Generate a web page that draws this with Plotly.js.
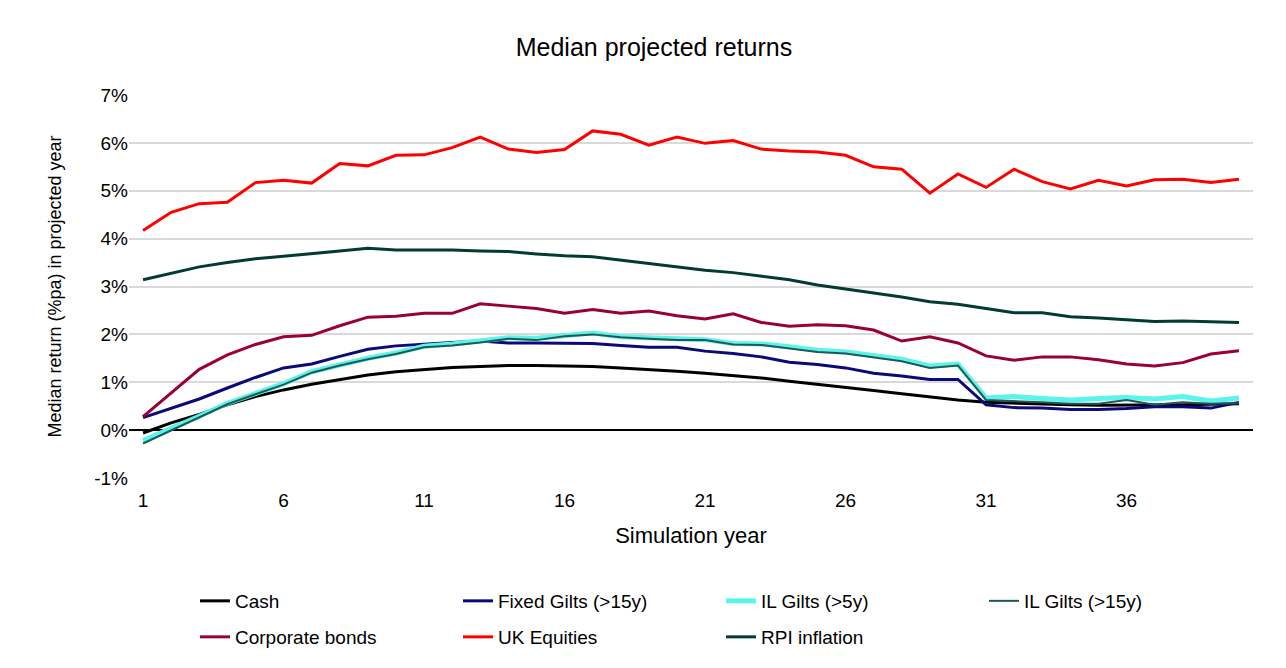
<!DOCTYPE html>
<html>
<head>
<meta charset="utf-8">
<script src="https://cdn.plot.ly/plotly-3.0.1.min.js"></script>
<style>
  html, body { margin: 0; padding: 0; background: #ffffff; }
  #chart { width: 1286px; height: 668px; }
</style>
</head>
<body>
<div id="chart"></div>
<script>
// Simulation years
const years = Array.from({length: 40}, (_, i) => i + 1);
const xTickVals = [1, 6, 11, 16, 21, 26, 31, 36];
const yTickVals = [-1, 0, 1, 2, 3, 4, 5, 6, 7];
const yTickText = ["-1%", "0%", "1%", "2%", "3%", "4%", "5%", "6%", "7%"];

// Median projected returns (% pa)
const cash = [-0.06, 0.15, 0.33, 0.53, 0.70, 0.84, 0.96, 1.06, 1.15, 1.22, 1.27, 1.31, 1.33, 1.35, 1.35, 1.34, 1.33, 1.30, 1.27, 1.23, 1.19, 1.14, 1.09, 1.02, 0.96, 0.90, 0.83, 0.76, 0.69, 0.63, 0.58, 0.56, 0.54, 0.53, 0.52, 0.52, 0.52, 0.53, 0.54, 0.55];
const fixedGilts = [0.26, 0.45, 0.65, 0.88, 1.10, 1.30, 1.38, 1.54, 1.69, 1.76, 1.80, 1.83, 1.86, 1.82, 1.82, 1.82, 1.81, 1.77, 1.73, 1.73, 1.65, 1.60, 1.53, 1.42, 1.37, 1.30, 1.19, 1.13, 1.06, 1.06, 0.53, 0.47, 0.46, 0.43, 0.43, 0.45, 0.49, 0.49, 0.46, 0.58];
const ilGilts5 = [-0.22, 0.03, 0.29, 0.56, 0.77, 0.97, 1.22, 1.37, 1.50, 1.61, 1.75, 1.80, 1.86, 1.93, 1.92, 1.98, 2.03, 1.95, 1.93, 1.91, 1.89, 1.81, 1.80, 1.74, 1.67, 1.63, 1.55, 1.48, 1.34, 1.38, 0.67, 0.70, 0.66, 0.63, 0.66, 0.68, 0.65, 0.70, 0.61, 0.67];
const ilGilts15 = [-0.28, -0.01, 0.27, 0.54, 0.75, 0.95, 1.20, 1.35, 1.48, 1.59, 1.73, 1.77, 1.83, 1.91, 1.88, 1.96, 2.00, 1.94, 1.91, 1.88, 1.88, 1.79, 1.78, 1.71, 1.63, 1.60, 1.52, 1.44, 1.30, 1.35, 0.63, 0.61, 0.58, 0.55, 0.55, 0.63, 0.53, 0.58, 0.55, 0.56];
const corpBonds = [0.28, 0.78, 1.27, 1.57, 1.79, 1.95, 1.98, 2.18, 2.36, 2.38, 2.44, 2.44, 2.64, 2.59, 2.54, 2.44, 2.52, 2.44, 2.49, 2.39, 2.32, 2.43, 2.25, 2.17, 2.20, 2.18, 2.09, 1.86, 1.95, 1.82, 1.55, 1.46, 1.53, 1.53, 1.47, 1.38, 1.34, 1.41, 1.59, 1.66];
const ukEquities = [4.17, 4.55, 4.73, 4.76, 5.17, 5.22, 5.16, 5.57, 5.52, 5.74, 5.75, 5.90, 6.12, 5.87, 5.80, 5.86, 6.25, 6.18, 5.95, 6.12, 5.99, 6.05, 5.87, 5.83, 5.81, 5.74, 5.50, 5.45, 4.95, 5.35, 5.07, 5.45, 5.19, 5.04, 5.22, 5.10, 5.23, 5.24, 5.17, 5.24];
const rpiInflation = [3.14, 3.28, 3.41, 3.50, 3.58, 3.63, 3.68, 3.74, 3.80, 3.76, 3.76, 3.76, 3.74, 3.73, 3.68, 3.64, 3.62, 3.55, 3.47, 3.40, 3.34, 3.29, 3.21, 3.14, 3.03, 2.95, 2.87, 2.78, 2.68, 2.63, 2.54, 2.45, 2.45, 2.37, 2.34, 2.30, 2.27, 2.28, 2.26, 2.25];

const seriesNames = ["Cash", "Fixed Gilts (>15y)", "IL Gilts (>5y)", "IL Gilts (>15y)", "Corporate bonds", "UK Equities", "RPI inflation"];

const FONT = "Liberation Sans, Arial, Helvetica, sans-serif";

function mk(name, y, color, width, legend) {
  return {
    x: years, y: y, name: name, type: "scatter", mode: "lines",
    line: {color: color, width: width},
    legend: legend,
    hoverinfo: "skip"
  };
}

const data = [
  mk(seriesNames[0], cash, "#000000", 3, "legend"),
  mk(seriesNames[1], fixedGilts, "#0A0A78", 3, "legend"),
  mk(seriesNames[2], ilGilts5, "#5AF4EC", 5, "legend"),
  mk(seriesNames[3], ilGilts15, "#1E5A55", 2, "legend"),
  mk(seriesNames[4], corpBonds, "#990033", 3, "legend2"),
  mk(seriesNames[5], ukEquities, "#FF0000", 3, "legend2"),
  mk(seriesNames[6], rpiInflation, "#003C32", 3, "legend2")
];

const legendCommon = {
  orientation: "h",
  xref: "container", yref: "container",
  x: 195 / 1286,
  xanchor: "left", yanchor: "middle",
  entrywidth: 218, entrywidthmode: "pixels",
  font: {family: FONT, size: 19, color: "#000000"},
  bgcolor: "rgba(0,0,0,0)",
  traceorder: "normal"
};

const layout = {
  width: 1286, height: 668,
  paper_bgcolor: "#ffffff", plot_bgcolor: "#ffffff",
  margin: {l: 129, r: 33, t: 95, b: 190},
  font: {family: FONT, size: 18, color: "#000000"},
  title: {
    text: "Median projected returns",
    font: {family: FONT, size: 25, color: "#000000"},
    xref: "container", yref: "container",
    x: 654 / 1286, y: 1 - 47 / 668, xanchor: "center", yanchor: "middle"
  },
  xaxis: {
    range: [0.5, 40.5],
    tickmode: "array", tickvals: xTickVals, ticktext: xTickVals.map(String),
    showgrid: false, zeroline: false, showline: false,
    ticks: "", ticklabelstandoff: 9,
    tickfont: {family: FONT, size: 19, color: "#000000"},
    title: {text: "Simulation year", font: {family: FONT, size: 22, color: "#000000"}, standoff: 17},
    automargin: false, fixedrange: true
  },
  yaxis: {
    range: [-1, 7],
    tickmode: "array", tickvals: yTickVals, ticktext: yTickText,
    showgrid: true, gridcolor: "#D9D9D9", gridwidth: 2,
    zeroline: true, zerolinecolor: "#000000", zerolinewidth: 2,
    showline: false, ticks: "",
    tickfont: {family: FONT, size: 19, color: "#000000"},
    title: {text: "Median return (%pa) in projected year", font: {family: FONT, size: 18, color: "#000000"}, standoff: 27},
    automargin: false, fixedrange: true
  },
  legend: Object.assign({}, legendCommon, {y: 1 - 601 / 668}),
  legend2: Object.assign({}, legendCommon, {y: 1 - 637 / 668}),
  showlegend: true
};

Plotly.newPlot("chart", data, layout, {displayModeBar: false, staticPlot: true});
</script>
</body>
</html>
